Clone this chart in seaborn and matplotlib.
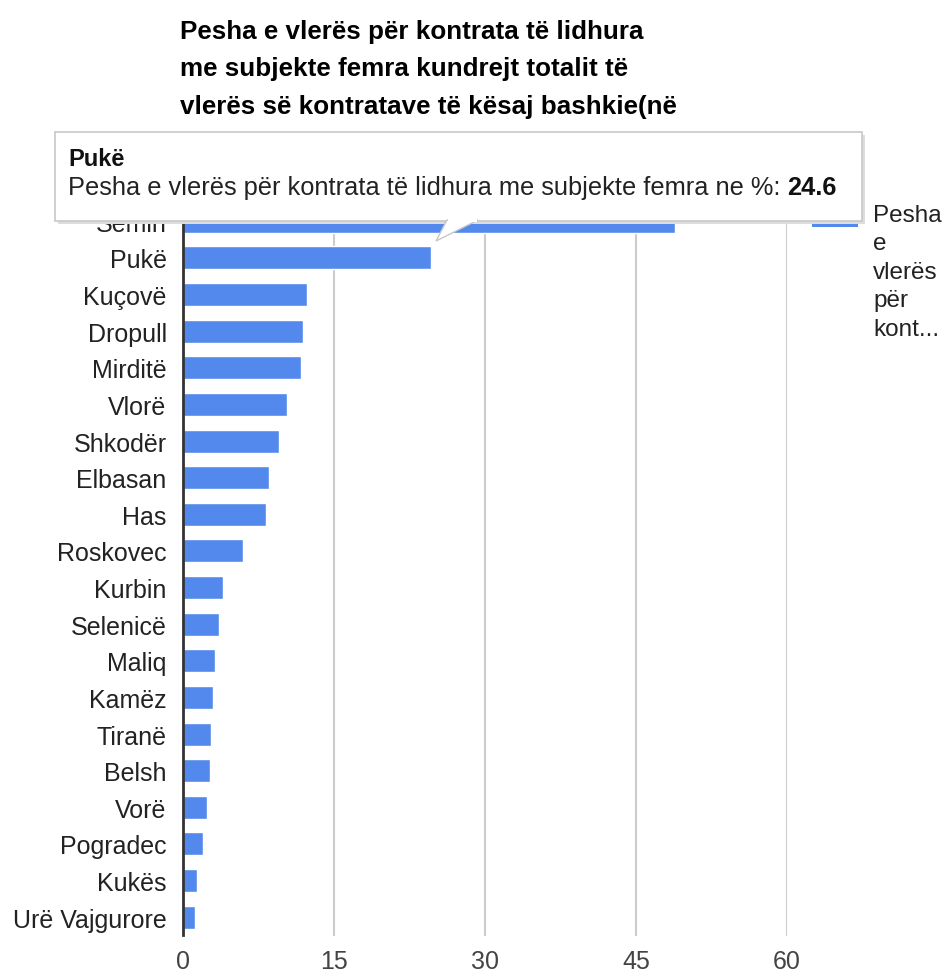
import matplotlib
matplotlib.use("Agg")
import matplotlib.pyplot as plt
from matplotlib.patches import Rectangle, Polygon
import seaborn as sns
import pandas as pd

# Data (percent of contract value awarded to women-led subjects)
bashkite = ["Semin", "Pukë", "Kuçovë", "Dropull", "Mirditë", "Vlorë", "Shkodër",
            "Elbasan", "Has", "Roskovec", "Kurbin", "Selenicë", "Maliq", "Kamëz",
            "Tiranë", "Belsh", "Vorë", "Pogradec", "Kukës", "Urë Vajgurore"]
pesha = [48.9, 24.6, 12.3, 11.9, 11.7, 10.3, 9.5, 8.5, 8.2, 5.9,
         3.9, 3.5, 3.2, 3.0, 2.75, 2.7, 2.35, 2.0, 1.4, 1.2]
x_ticks = [0, 15, 30, 45, 60]

title = ("Pesha e vlerës për kontrata të lidhura\n"
         "me subjekte femra kundrejt totalit të\n"
         "vlerës së kontratave të kësaj bashkie(në")
series_name = "Pesha e vlerës për kontrata të lidhura me subjekte femra ne %"
legend_lines = ["Pesha", "e", "vlerës", "për", "kont..."]
hover_idx = 1

BAR = "#5389ec"
W, H = 947, 979


def fx(px):
    return px / W


def fy(py):
    return 1 - py / H


def main():
    sns.set_style("white")
    plt.rcParams["font.family"] = ["Liberation Sans", "DejaVu Sans"]

    df = pd.DataFrame({"bashkia": bashkite, "pesha": pesha})

    fig = plt.figure(figsize=(W / 100, H / 100), dpi=100)
    left, right, top, bottom = 183.3, 787, 204, 936.5
    ax = fig.add_axes([fx(left), fy(bottom), (right - left) / W, (bottom - top) / H])

    sns.barplot(data=df, x="pesha", y="bashkia", orient="h", color=BAR,
                width=0.63, saturation=1, ax=ax, zorder=3)

    ax.set_xlim(0, 60)
    ax.set_xticks(x_ticks)
    ax.set_xticklabels([str(t) for t in x_ticks])
    ax.grid(axis="x", color="#cccccc", linewidth=1.5, zorder=0)
    ax.grid(axis="y", visible=False)
    for side in ["top", "right", "bottom"]:
        ax.spines[side].set_visible(False)
    ax.spines["left"].set_color("#333333")
    ax.spines["left"].set_linewidth(2)
    ax.spines["left"].set_zorder(4)
    ax.tick_params(axis="x", length=0, pad=10, labelsize=18, labelcolor="#444444")
    ax.tick_params(axis="y", length=0, pad=12, labelsize=18, labelcolor="#222222")
    ax.set_xlabel("")
    ax.set_ylabel("")

    # title, left aligned with the plot area
    fig.text(fx(180), fy(20), title, ha="left", va="top", fontsize=18.7,
             fontweight="bold", color="#000000", linespacing=1.7)

    # legend on the right
    fig.add_artist(Rectangle((fx(812), fy(228)), fx(858) - fx(812), fy(200) - fy(228),
                             transform=fig.transFigure, facecolor=BAR,
                             edgecolor="none", zorder=5))
    for i, line in enumerate(legend_lines):
        fig.text(fx(873), fy(216 + i * 28.5), line, ha="left", va="center",
                 fontsize=17.5, color="#222222", zorder=6)

    # hover tooltip for Pukë
    tl, tt, tr, tb = 55, 133, 862, 222
    fig.add_artist(Rectangle((fx(tl + 3), fy(tb + 3)), fx(tr) - fx(tl), fy(tt) - fy(tb),
                             transform=fig.transFigure, facecolor="#dddddd",
                             edgecolor="none", zorder=9))
    fig.add_artist(Rectangle((fx(tl), fy(tb)), fx(tr) - fx(tl), fy(tt) - fy(tb),
                             transform=fig.transFigure, facecolor="white",
                             edgecolor="#c8c8c8", linewidth=1.2, zorder=10))
    fig.add_artist(Polygon([(fx(447), fy(221)), (fx(478), fy(221)), (fx(436), fy(242))],
                           closed=True, transform=fig.transFigure, facecolor="white",
                           edgecolor="#c8c8c8", linewidth=1.0, zorder=10))
    fig.add_artist(Rectangle((fx(448), fy(223)), fx(477) - fx(448), fy(220) - fy(223),
                             transform=fig.transFigure, facecolor="white",
                             edgecolor="none", zorder=10.5))
    fig.text(fx(68), fy(159), bashkite[hover_idx], ha="left", va="center",
             fontsize=17, fontweight="bold", color="#111111", zorder=11)
    t = fig.text(fx(68), fy(188), series_name + ": ", ha="left", va="center",
                 fontsize=18.3, color="#222222", zorder=11)
    fig.canvas.draw()
    bb = t.get_window_extent()
    fig.text(bb.x1 / W, fy(188), f"{pesha[hover_idx]}", ha="left", va="center",
             fontsize=18.3, fontweight="bold", color="#111111", zorder=11)

    fig.savefig("out.png", dpi=100, facecolor="white")


if __name__ == "__main__":
    main()
